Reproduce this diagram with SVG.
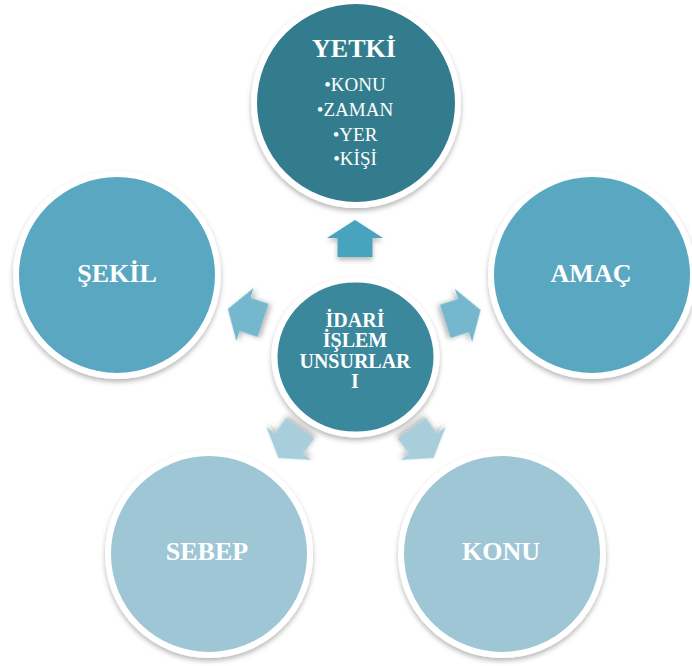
<svg xmlns="http://www.w3.org/2000/svg" width="692" height="666" viewBox="0 0 692 666">
<defs>
<filter id="sh" x="-20%" y="-20%" width="140%" height="150%">
<feDropShadow dx="0" dy="3" stdDeviation="2.5" flood-color="#000" flood-opacity="0.28"/>
</filter>
<path id="arr" d="M0,-18 L28,0 L17.5,0 L17.5,19 L-17.5,19 L-17.5,0 L-28,0 Z"/>
</defs>
<style>
.ring{stroke:#fff;stroke-width:6;filter:url(#sh)}
.lbl{font-family:"Liberation Serif","Times New Roman",serif;font-weight:bold;fill:#fff;text-anchor:middle}
.big{font-size:26px}
.mid{font-size:20px}
.bul{font-family:"Liberation Serif","Times New Roman",serif;font-size:19px;fill:#fff;text-anchor:middle}
.arrow{filter:url(#sh)}
</style>
<rect width="692" height="666" fill="#fff"/>
<g id="connectors">
<use href="#arr" class="arrow" fill="#46A3BE" transform="translate(355,238)"/>
<use href="#arr" class="arrow" fill="#74B7CD" transform="translate(463.5,315.5) rotate(72)"/>
<use href="#arr" class="arrow" fill="#A8CEDC" transform="translate(423,443.5) rotate(144)"/>
<use href="#arr" class="arrow" fill="#A8CEDC" transform="translate(289,443.5) rotate(216)"/>
<use href="#arr" class="arrow" fill="#74B7CD" transform="translate(245,314.5) rotate(-72)"/>
</g>
<g id="yetki">
<circle class="ring" cx="356" cy="103" r="102" fill="#317B8E"/>
<text class="lbl big" x="354" y="57">YETKİ</text>
<text class="bul" x="355" y="91">•KONU</text>
<text class="bul" x="355" y="116">•ZAMAN</text>
<text class="bul" x="355" y="141">•YER</text>
<text class="bul" x="355" y="165">•KİŞİ</text>
</g>
<g id="sekil">
<circle class="ring" cx="117" cy="275" r="101" fill="#5AA7C1"/>
<text class="lbl big" x="117" y="282">ŞEKİL</text>
</g>
<g id="amac">
<circle class="ring" cx="592" cy="275" r="101" fill="#5AA7C1"/>
<text class="lbl big" x="591" y="282">AMAÇ</text>
</g>
<g id="sebep">
<circle class="ring" cx="209" cy="554" r="101" fill="#9EC6D5"/>
<text class="lbl big" x="207" y="560">SEBEP</text>
</g>
<g id="konu">
<circle class="ring" cx="502" cy="554" r="101" fill="#9EC6D5"/>
<text class="lbl big" x="501" y="560">KONU</text>
</g>
<g id="center">
<ellipse class="ring" cx="355.5" cy="357" rx="81" ry="77.5" fill="#3A879C"/>
<text class="lbl mid" x="355" y="327">İDARİ</text>
<text class="lbl mid" x="355" y="347">İŞLEM</text>
<text class="lbl mid" x="355" y="367.5">UNSURLAR</text>
<text class="lbl mid" x="355" y="388">I</text>
</g>
</svg>
